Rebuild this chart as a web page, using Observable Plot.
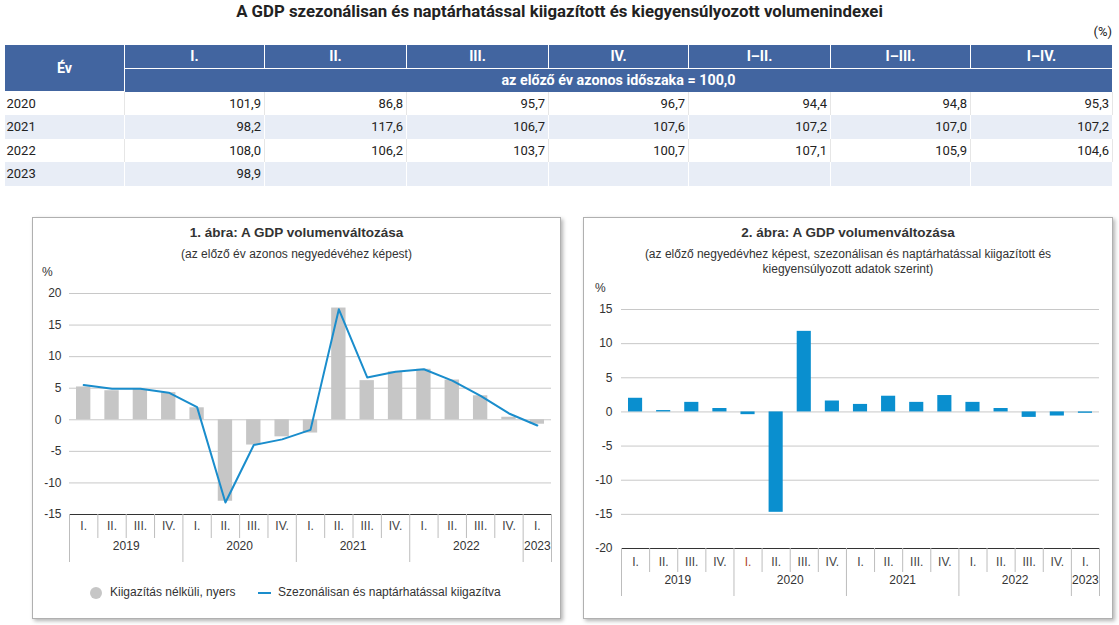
<!DOCTYPE html>
<html><head><meta charset="utf-8">
<script src="https://cdn.jsdelivr.net/npm/d3@7"></script>
<script src="https://cdn.jsdelivr.net/npm/@observablehq/plot@0.6"></script>
<style>
body{margin:0;width:1119px;height:625px;position:relative;background:#fff;font-family:Roboto,"Liberation Sans",sans-serif;overflow:hidden}
.abs{position:absolute}
#title{left:0;width:1119px;top:1px;text-align:center;font-weight:bold;font-size:16.8px;color:#222}
#pct{right:7px;top:24px;font-size:13px;color:#222}
table{position:absolute;left:4px;top:45px;border-collapse:collapse;table-layout:fixed;width:1108px;font-size:13px}
th{background:#4265a0;color:#fff;font-weight:bold;font-size:14.3px;border-left:1px solid #fff;border-right:1px solid #fff;padding:0;box-sizing:border-box}
tr.h1 th{height:23px;border-bottom:1px solid #fff}
tr.h2 th{height:23.5px}
td{height:23.5px;padding:0 3px;text-align:right;color:#222;box-sizing:border-box;border-right:1px solid #e6e6e6}
td.yr{text-align:left;padding-left:2px}
tr.alt td{background:#e8edf6;border-right:1px solid #fff}
.box{top:217px;height:400px;border:1px solid #b0b0b0;box-shadow:2px 2px 4px rgba(0,0,0,.3);background:#fff}
.ct{font-family:"Liberation Sans",Arial,sans-serif;color:#333;text-align:center}
.ctitle{font-weight:bold;font-size:13.5px}
.csub{font-size:12px;line-height:15px}
.pc{font-family:"Liberation Sans",Arial,sans-serif;font-size:12px;color:#333}
.leg{font-family:"Liberation Sans",Arial,sans-serif;font-size:12px;color:#333}
</style></head>
<body>
<div id="title" class="abs">A GDP szezonálisan és naptárhatással kiigazított és kiegyensúlyozott volumenindexei</div>
<div id="pct" class="abs">(%)</div>
<table id="tbl"></table>

<div class="abs box" style="left:32px;width:527px"></div>
<div class="abs box" style="left:583px;width:528px"></div>

<div class="abs ct ctitle" style="left:33px;width:527px;top:225px">1. ábra: A GDP volumenváltozása</div>
<div class="abs ct csub" style="left:33px;width:527px;top:247px">(az előző év azonos negyedévéhez képest)</div>
<div class="abs pc" style="left:42px;top:265px">%</div>
<div id="c1" class="abs" style="left:33px;top:283px"></div>
<div class="abs" style="left:90px;top:587px;width:12px;height:12px;border-radius:6px;background:#c6c6c6"></div>
<div class="abs leg" style="left:110px;top:585px">Kiigazítás nélküli, nyers</div>
<div class="abs" style="left:258px;top:592px;width:13px;height:2px;background:#1a8dcc"></div>
<div class="abs leg" style="left:278px;top:585px">Szezonálisan és naptárhatással kiigazítva</div>

<div class="abs ct ctitle" style="left:584px;width:528px;top:225px">2. ábra: A GDP volumenváltozása</div>
<div class="abs ct csub" style="left:584px;width:528px;top:247px">(az előző negyedévhez képest, szezonálisan és naptárhatással kiigazított és<br>kiegyensúlyozott adatok szerint)</div>
<div class="abs pc" style="left:595px;top:281px">%</div>
<div id="c2" class="abs" style="left:584px;top:299px"></div>

<script>
// ---- table data ----
const tableYears = ["2020", "2021", "2022", "2023"];
const tableCols = ["I.", "II.", "III.", "IV.", "I–II.", "I–III.", "I–IV."];
const tableHeaderYear = "Év";
const tableSubHeader = "az előző év azonos időszaka = 100,0";
const tableValues = [
  ["101,9", "86,8", "95,7", "96,7", "94,4", "94,8", "95,3"],
  ["98,2", "117,6", "106,7", "107,6", "107,2", "107,0", "107,2"],
  ["108,0", "106,2", "103,7", "100,7", "107,1", "105,9", "104,6"],
  ["98,9", "", "", "", "", "", ""]
];

// ---- chart data ----
const quarters = ["I.","II.","III.","IV.","I.","II.","III.","IV.","I.","II.","III.","IV.","I.","II.","III.","IV.","I."];
const quarterYears = [2019,2019,2019,2019,2020,2020,2020,2020,2021,2021,2021,2021,2022,2022,2022,2022,2023];
const rawYoY = [5.2, 4.6, 4.8, 4.3, 1.9, -12.9, -4.0, -2.7, -2.1, 17.7, 6.2, 7.6, 8.0, 6.3, 3.8, 0.4, -0.7];
const adjYoY = [5.5, 4.9, 4.9, 4.3, 2.0, -13.1, -4.0, -3.1, -1.6, 17.5, 6.7, 7.6, 8.0, 6.2, 3.8, 1.0, -0.9];
const adjQoQ = [2.0, 0.2, 1.4, 0.5, -0.4, -14.7, 11.8, 1.6, 1.1, 2.3, 1.4, 2.4, 1.4, 0.5, -0.8, -0.6, -0.2];
const yTicks1 = [-15, -10, -5, 0, 5, 10, 15, 20];
const yTicks2 = [-20, -15, -10, -5, 0, 5, 10, 15];
const highlightedQoQ = [{yr: 2020, q: "I."}];

// build table
const tbl = document.getElementById("tbl");
const colW = [120, 140, 142, 142, 140, 142, 140, 142];
let html = "<colgroup>" + colW.map(w => `<col style="width:${w}px">`).join("") + "</colgroup>";
html += `<tr class="h1"><th rowspan="2">${tableHeaderYear}</th>` + tableCols.map(c => `<th>${c}</th>`).join("") + "</tr>";
html += `<tr class="h2"><th colspan="${tableCols.length}">${tableSubHeader}</th></tr>`;
tableYears.forEach((y, r) => {
  html += `<tr class="${r % 2 ? "alt" : ""}"><td class="yr">${y}</td>` + tableValues[r].map(v => `<td>${v}</td>`).join("") + "</tr>";
});
tbl.innerHTML = html;

const rows = quarters.map((q, i) => ({i, q, yr: quarterYears[i], raw: rawYoY[i], adj: adjYoY[i], qoq: adjQoQ[i]}));
const groups = d3.groups(rows, d => d.yr).map(([yr, rs]) => ({yr, start: rs[0].i, end: rs[rs.length - 1].i + 1}));
const yearBounds = [0, ...groups.map(g => g.end)];
const quarterBounds = d3.range(quarters.length + 1).filter(b => !yearBounds.includes(b));
const n = quarters.length;
const font = {fontFamily: "'Liberation Sans', Arial, sans-serif", fontSize: "12px", color: "#333", background: "transparent", overflow: "visible"};

function separators() {
  return [
    Plot.axisX({ticks: quarterBounds, tickSize: 24, tickFormat: () => "", stroke: "#bdbdbd", label: null}),
    Plot.axisX({ticks: yearBounds, tickSize: 48, tickFormat: () => "", stroke: "#bdbdbd", label: null})
  ];
}

const c1 = Plot.plot({
  width: 526, height: 281, marginTop: 10, marginBottom: 50, marginLeft: 36, marginRight: 8,
  style: font,
  x: {domain: [0, n]},
  y: {domain: [-15, 20]},
  marks: [
    Plot.ruleY(yTicks1.slice(1), {stroke: "#c8c8c8"}),
    Plot.rectY(rows, {x1: "i", x2: d => d.i + 1, y1: 0, y2: "raw", fill: "#c6c6c6", insetLeft: 7, insetRight: 7}),
    Plot.ruleY([yTicks1[0]], {stroke: "#333"}),
    Plot.line(rows, {x: d => d.i + 0.5, y: "adj", stroke: "#1a8dcc", strokeWidth: 2}),
    Plot.axisY({ticks: yTicks1, tickSize: 0, tickPadding: 8, tickFormat: d => String(d), label: null}),
    ...separators(),
    Plot.text(rows, {x: d => d.i + 0.5, frameAnchor: "bottom", dy: 15, text: "q", fill: "#444"}),
    Plot.text(groups, {x: d => (d.start + d.end) / 2, frameAnchor: "bottom", dy: 35, text: d => String(d.yr), fill: "#333"})
  ]
});
document.getElementById("c1").appendChild(c1);

const c2 = Plot.plot({
  width: 527, height: 301, marginTop: 10, marginBottom: 52, marginLeft: 37, marginRight: 12,
  style: font,
  x: {domain: [0, n]},
  y: {domain: [-20, 15]},
  marks: [
    Plot.ruleY(yTicks2.slice(1), {stroke: "#c8c8c8"}),
    Plot.rectY(rows, {x1: "i", x2: d => d.i + 1, y1: 0, y2: "qoq", fill: "#0a8fcf", insetLeft: 7, insetRight: 7}),
    Plot.ruleY([yTicks2[0]], {stroke: "#333"}),
    Plot.axisY({ticks: yTicks2, tickSize: 0, tickPadding: 9, tickFormat: d => String(d), label: null}),
    ...separators(),
    Plot.text(rows, {x: d => d.i + 0.5, frameAnchor: "bottom", dy: 17, text: "q",
      fill: d => highlightedQoQ.some(h => h.yr === d.yr && h.q === d.q) ? "#b0452c" : "#444"}),
    Plot.text(groups, {x: d => (d.start + d.end) / 2, frameAnchor: "bottom", dy: 35, text: d => String(d.yr), fill: "#333"})
  ]
});
document.getElementById("c2").appendChild(c2);
</script>
</body></html>
